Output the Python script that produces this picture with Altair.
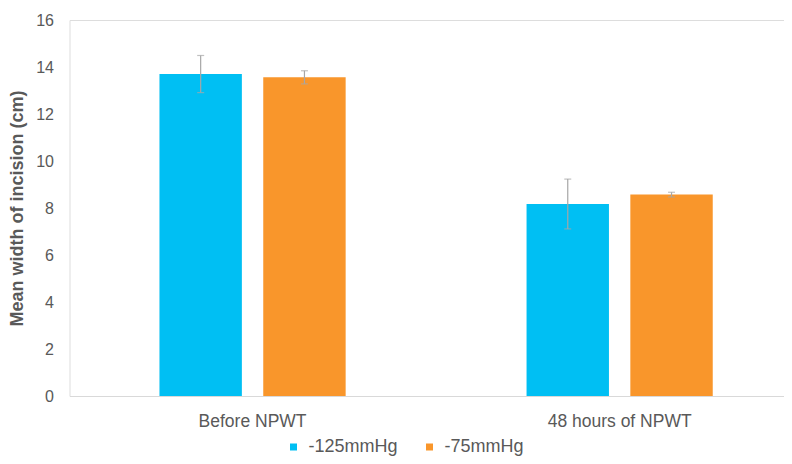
import altair as alt
import pandas as pd

times = ["Before NPWT", "Before NPWT", "48 hours of NPWT", "48 hours of NPWT"]
groups = ["-125mmHg", "-75mmHg", "-125mmHg", "-75mmHg"]
means = [13.70, 13.56, 8.17, 8.57]
errs = [0.79, 0.28, 1.06, 0.10]

time_order = ["Before NPWT", "48 hours of NPWT"]
group_order = ["-125mmHg", "-75mmHg"]
colors = ["#00BFF3", "#F9962B"]
y_ticks = [0, 2, 4, 6, 8, 10, 12, 14, 16]

df = pd.DataFrame({"time": times, "group": groups, "mean": means, "err": errs})
df["lo"] = df["mean"] - df["err"]
df["hi"] = df["mean"] + df["err"]

FONT = "Liberation Sans"
GREY = "#595959"
ERR = "#A6A6A6"
YTITLE = "Mean width of incision (cm)"

x_axis = alt.Axis(labelAngle=0, labelFontSize=17.5, labelColor=GREY, labelFont=FONT,
                  ticks=False, domainColor="#D9D9D9", domainWidth=1, labelPadding=16)
x_scale = alt.Scale(paddingInner=0.4928, paddingOuter=0.2196, align=0.558)
y_axis = alt.Axis(values=y_ticks, grid=False, domain=False, ticks=False,
                  labelFontSize=16, labelColor=GREY, labelFont=FONT, labelPadding=16,
                  titleFontSize=18, titleColor=GREY, titleFont=FONT, titleFontWeight="bold",
                  titleX=-52, titleY=188, titleBaseline="middle", titleAngle=270)
y_scale = alt.Scale(domain=[0, 16], nice=False)

def xenc():
    return alt.X("time:N", sort=time_order, title=None, scale=x_scale, axis=x_axis)

def xoenc():
    return alt.XOffset("group:N", sort=group_order,
                       scale=alt.Scale(paddingInner=0.206, paddingOuter=0))

def yenc(field):
    return alt.Y(field, title=YTITLE, scale=y_scale, axis=y_axis)

base = alt.Chart(df)

bars = base.mark_bar().encode(
    x=xenc(), xOffset=xoenc(), y=yenc("mean:Q"),
    color=alt.Color("group:N", sort=group_order, title=None,
                    scale=alt.Scale(domain=group_order, range=colors),
                    legend=alt.Legend(orient="none", direction="horizontal",
                                      legendX=215, legendY=418, padding=0,
                                      symbolType="square", symbolSize=49, symbolStrokeWidth=0,
                                      labelFontSize=18, labelColor=GREY, labelFont=FONT,
                                      labelOffset=6, columnPadding=22)),
)

rules = base.mark_rule(color=ERR, strokeWidth=1.2).encode(
    x=xenc(), xOffset=xoenc(), y=yenc("lo:Q"), y2="hi:Q",
)
cap_hi = base.mark_tick(color=ERR, size=7, thickness=1.2).encode(
    x=xenc(), xOffset=xoenc(), y=yenc("hi:Q"),
)
cap_lo = base.mark_tick(color=ERR, size=7, thickness=1.2).encode(
    x=xenc(), xOffset=xoenc(), y=yenc("lo:Q"),
)

chart = alt.layer(bars, rules, cap_hi, cap_lo).properties(
    width=714.5, height=376,
    autosize=alt.AutoSizeParams(type="none"),
    padding={"left": 61.5, "top": 12, "right": 0, "bottom": 60},
).configure_view(strokeWidth=0, stroke="transparent").configure(font=FONT)

chart.save("out.html", embed_options={"renderer": "svg", "actions": False})
